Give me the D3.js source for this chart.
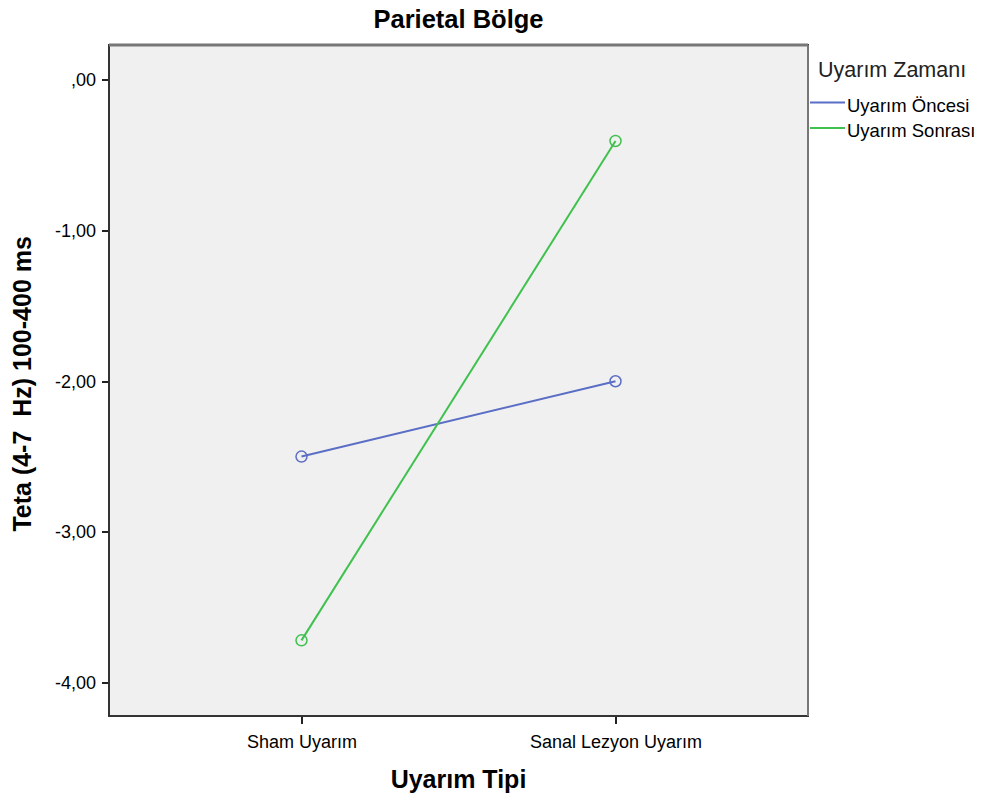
<html>
<head>
<meta charset="utf-8">
<title>Parietal Bölge</title>
<style>
  body { margin: 0; background: #fff; }
  text { font-family: "Liberation Sans", Arial, sans-serif; fill: #000; }
  .axis path, .axis line { stroke: #222; shape-rendering: crispEdges; }
</style>
<script src="https://cdn.jsdelivr.net/npm/d3@7"></script>
</head>
<body>
<script>
  // data
  var categories = ["Sham Uyarım", "Sanal Lezyon Uyarım"];
  var seriesNames = ["Uyarım Öncesi", "Uyarım Sonrası"];
  var oncesi = [-2.50, -2.00];
  var sonrasi = [-3.72, -0.405];
  var yTicks = [0, -1, -2, -3, -4];
  var colors = ["#5b6ec6", "#3fc14e"];

  var margin = { top: 45, right: 177, bottom: 89, left: 109 },
      W = 985, H = 805,
      width = W - margin.left - margin.right,
      height = H - margin.top - margin.bottom;

  var svg = d3.select("body").append("svg")
      .attr("width", W).attr("height", H);

  var g = svg.append("g")
      .attr("transform", "translate(" + margin.left + "," + margin.top + ")");

  var y = d3.scaleLinear().domain([-4.222, 0.232]).range([height, 0]);
  var x = d3.scalePoint().domain(categories).range([0, width]).padding(0.613);

  g.append("rect")
      .attr("width", width).attr("height", height)
      .attr("fill", "#f0f0f0");

  // SPSS style: comma decimal, no leading zero, plain hyphen
  var fmt = function(d) {
    var s = d3.format(".2f")(d).replace("\u2212", "-").replace(".", ",");
    return s.replace(/^0,/, ",").replace(/^-0,/, "-,");
  };

  var yAxis = g.append("g").attr("class", "axis")
      .call(d3.axisLeft(y).tickValues(yTicks).tickSize(7).tickPadding(6).tickFormat(fmt));
  yAxis.select(".domain").remove();
  yAxis.selectAll("text").style("font-size", "18px").attr("fill", "#111");
  yAxis.selectAll("line").attr("stroke-width", 2);

  var xAxis = g.append("g").attr("class", "axis")
      .attr("transform", "translate(0," + height + ")")
      .call(d3.axisBottom(x).tickSize(8).tickPadding(11));
  xAxis.select(".domain").remove();
  xAxis.selectAll("text").style("font-size", "18px").attr("fill", "#111");
  xAxis.selectAll("line").attr("stroke-width", 1.5);

  // frame
  g.append("rect")
      .attr("width", width).attr("height", height)
      .attr("fill", "none").attr("stroke", "#333").attr("stroke-width", 2);
  g.append("line").attr("x1", 0).attr("x2", width).attr("y1", 0).attr("y2", 0)
      .attr("stroke", "#777").attr("stroke-width", 3);
  g.append("line").attr("x1", width).attr("x2", width).attr("y1", 0).attr("y2", height)
      .attr("stroke", "#777").attr("stroke-width", 2);

  var series = [oncesi, sonrasi];
  var line = d3.line()
      .x(function(d, i) { return x(categories[i]); })
      .y(function(d) { return y(d); });

  series.forEach(function(vals, k) {
    g.append("path")
        .datum(vals)
        .attr("d", line)
        .attr("fill", "none")
        .attr("stroke", colors[k])
        .attr("stroke-width", 2);
    g.selectAll(".pt" + k)
        .data(vals)
        .enter().append("circle")
        .attr("class", "pt" + k)
        .attr("cx", function(d, i) { return x(categories[i]); })
        .attr("cy", function(d) { return y(d); })
        .attr("r", 5.5)
        .attr("fill", "none")
        .attr("stroke", colors[k])
        .attr("stroke-width", 1.5);
  });

  // titles
  svg.append("text")
      .attr("x", margin.left + width / 2).attr("y", 28)
      .attr("text-anchor", "middle")
      .style("font-size", "25.5px").style("font-weight", "bold")
      .text("Parietal Bölge");

  svg.append("text")
      .attr("x", margin.left + width / 2).attr("y", 788)
      .attr("text-anchor", "middle")
      .style("font-size", "25px").style("font-weight", "bold")
      .text("Uyarım Tipi");

  svg.append("text")
      .attr("transform", "translate(31," + (margin.top + height * 0.505) + ") rotate(-90)")
      .attr("text-anchor", "middle")
      .style("font-size", "25px").style("font-weight", "bold")
      .style("white-space", "pre")
      .text("Teta (4-7  Hz) 100-400 ms");

  // legend
  var leg = svg.append("g").attr("transform", "translate(818,0)");
  leg.append("text").attr("x", 0).attr("y", 77)
      .style("font-size", "21.5px").style("fill", "#222")
      .text("Uyarım Zamanı");
  seriesNames.forEach(function(name, k) {
    var yy = 102.5 + k * 25.5;
    leg.append("line")
        .attr("x1", -8).attr("x2", 27).attr("y1", yy).attr("y2", yy)
        .attr("stroke", colors[k]).attr("stroke-width", 2);
    leg.append("text")
        .attr("x", 29).attr("y", yy + 9)
        .style("font-size", "18.5px")
        .text(name);
  });
</script>
</body>
</html>
